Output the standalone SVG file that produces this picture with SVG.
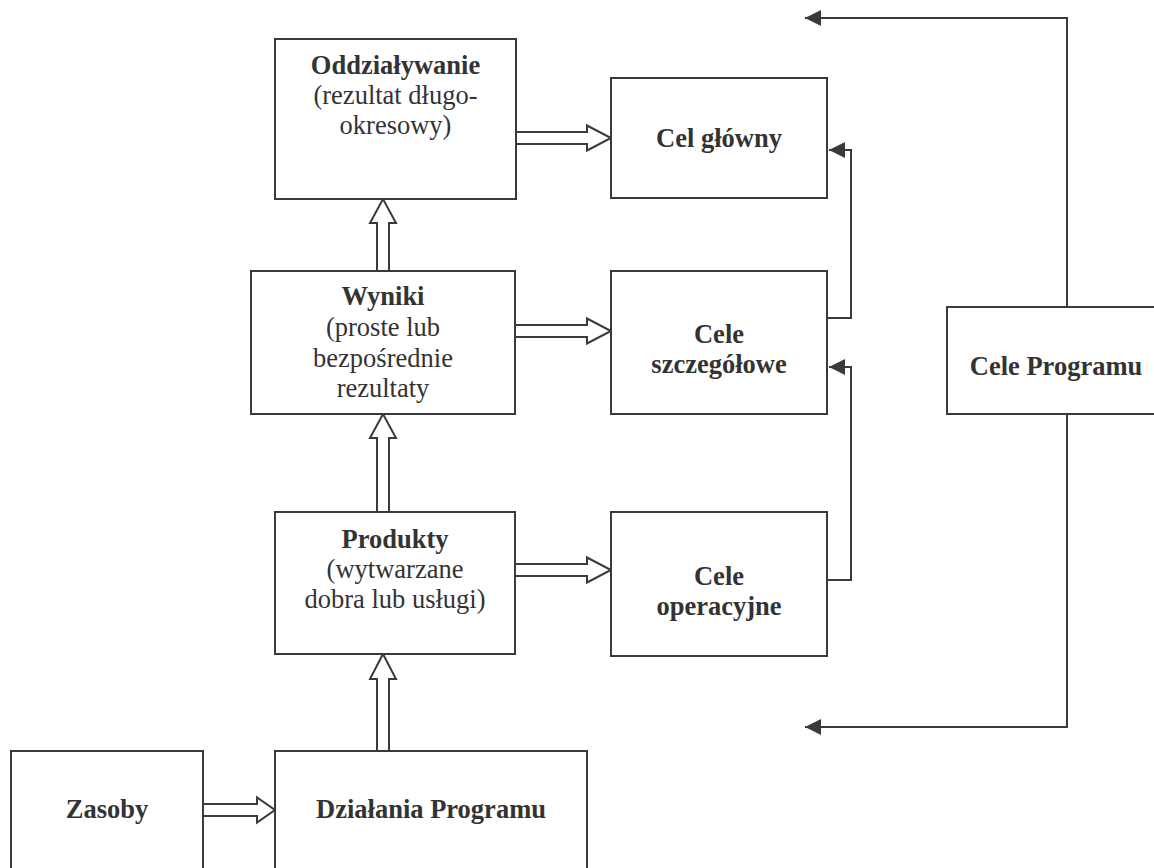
<svg xmlns="http://www.w3.org/2000/svg" width="1154" height="868" viewBox="0 0 1154 868">
<style>
.box{fill:#fff;stroke:#3a3a3c;stroke-width:2}
.ha{fill:#fff;stroke:#3a3a3c;stroke-width:2;stroke-linejoin:miter}
.ln{fill:none;stroke:#3a3a3c;stroke-width:2}
text{font-family:'Liberation Serif','Times New Roman','DejaVu Serif',serif;font-size:26.5px;fill:#333;text-anchor:middle}
.b{font-weight:bold}
</style>
<defs>
<marker id="ah" markerWidth="16" markerHeight="16" viewBox="0 0 16 16" refX="16" refY="8" orient="auto" markerUnits="userSpaceOnUse">
<path d="M0,0 L16,8 L0,16 z" fill="#3a3a3c"/>
</marker>
</defs>
<rect width="1154" height="868" fill="#fff"/>
<g id="connectors">
<polygon class="ha" points="516,132 587,132 587,125.5 611,138 587,150.5 587,144 516,144"/>
<polygon class="ha" points="515,325 587,325 587,318.5 611,331 587,343.5 587,337 515,337"/>
<polygon class="ha" points="515,564 587,564 587,557.5 611,570 587,582.5 587,576 515,576"/>
<polygon class="ha" points="203,804 257,804 257,797.5 275,810 257,822.5 257,816 203,816"/>
<polygon class="ha" points="377,751 377,679 370,679 383,654 396,679 389,679 389,751"/>
<polygon class="ha" points="377,512 377,438 370,438 383,414 396,438 389,438 389,512"/>
<polygon class="ha" points="377,271 377,223 370,223 383,199 396,223 389,223 389,271"/>
<polyline class="ln" points="827,318 851,318 851,150 829,150" marker-end="url(#ah)"/>
<polyline class="ln" points="827,580 851,580 851,367 829,367" marker-end="url(#ah)"/>
<polyline class="ln" points="1067,307 1067,18 805,18" marker-end="url(#ah)"/>
<polyline class="ln" points="1067,414 1067,727 805,727" marker-end="url(#ah)"/>
</g>
<g id="oddzialywanie">
<rect class="box" x="275" y="39" width="241" height="160"/>
<text class="b" x="395.5" y="74">Oddziaływanie</text>
<text x="395.5" y="104">(rezultat długo-</text>
<text x="395.5" y="134">okresowy)</text>
</g>
<g id="cel-glowny">
<rect class="box" x="611" y="78" width="216" height="120"/>
<text class="b" x="719" y="147">Cel główny</text>
</g>
<g id="wyniki">
<rect class="box" x="251" y="271" width="264" height="143"/>
<text class="b" x="383" y="305">Wyniki</text>
<text x="383" y="336">(proste lub</text>
<text x="383" y="367">bezpośrednie</text>
<text x="383" y="397">rezultaty</text>
</g>
<g id="cele-szczegolowe">
<rect class="box" x="611" y="271" width="216" height="143"/>
<text class="b" x="719" y="343">Cele</text>
<text class="b" x="719" y="373">szczegółowe</text>
</g>
<g id="produkty">
<rect class="box" x="275" y="512" width="240" height="142"/>
<text class="b" x="395" y="548">Produkty</text>
<text x="395" y="578">(wytwarzane</text>
<text x="395" y="608">dobra lub usługi)</text>
</g>
<g id="cele-operacyjne">
<rect class="box" x="611" y="512" width="216" height="144"/>
<text class="b" x="719" y="585">Cele</text>
<text class="b" x="719" y="615">operacyjne</text>
</g>
<g id="cele-programu">
<rect class="box" x="947" y="307" width="220" height="107"/>
<text class="b" x="1056" y="375">Cele Programu</text>
</g>
<g id="zasoby">
<rect class="box" x="11" y="751" width="192" height="130"/>
<text class="b" x="107" y="818">Zasoby</text>
</g>
<g id="dzialania-programu">
<rect class="box" x="275" y="751" width="312" height="130"/>
<text class="b" x="431" y="818">Działania Programu</text>
</g>
</svg>
